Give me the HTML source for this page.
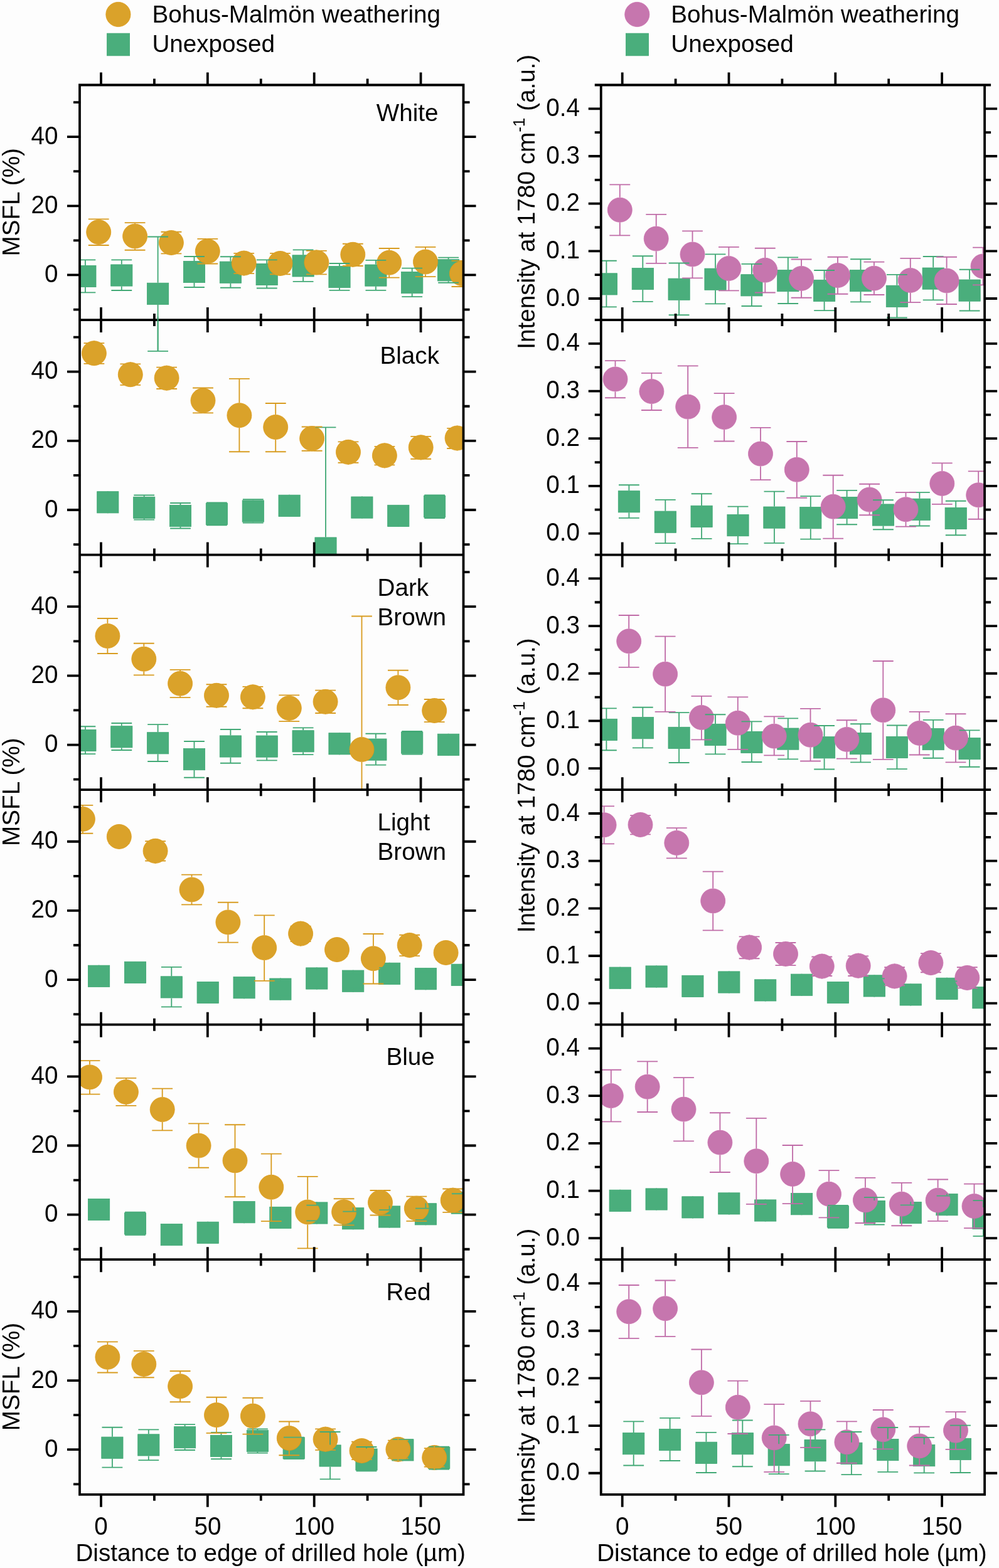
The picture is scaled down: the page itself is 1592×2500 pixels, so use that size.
<!DOCTYPE html>
<html lang="en"><head><meta charset="utf-8"><title>MSFL and intensity vs distance</title>
<style>html,body{margin:0;padding:0;background:#fdfdfd}svg{display:block}</style></head>
<body>
<svg width="1592" height="2500" viewBox="0 0 1592 2500" font-family="'Liberation Sans', sans-serif" font-size="38.65" fill="#000">
<rect width="1592" height="2500" fill="#fdfdfd"/>
<defs>
<clipPath id="cL0"><rect x="127.0" y="135.5" width="611.5" height="464.5"/></clipPath>
<clipPath id="cL1"><rect x="127.0" y="510.1" width="611.5" height="374.6"/></clipPath>
<clipPath id="cL2"><rect x="127.0" y="884.6" width="611.5" height="374.6"/></clipPath>
<clipPath id="cL3"><rect x="127.0" y="1259.2" width="611.5" height="374.5"/></clipPath>
<clipPath id="cL4"><rect x="127.0" y="1633.7" width="611.5" height="374.5"/></clipPath>
<clipPath id="cL5"><rect x="127.0" y="2008.2" width="611.5" height="374.6"/></clipPath>
<clipPath id="cR0"><rect x="957.75" y="135.5" width="611.3" height="374.6"/></clipPath>
<clipPath id="cR1"><rect x="957.75" y="510.1" width="611.3" height="374.6"/></clipPath>
<clipPath id="cR2"><rect x="957.75" y="884.6" width="611.3" height="374.6"/></clipPath>
<clipPath id="cR3"><rect x="957.75" y="1259.2" width="611.3" height="374.5"/></clipPath>
<clipPath id="cR4"><rect x="957.75" y="1633.7" width="611.3" height="374.5"/></clipPath>
<clipPath id="cR5"><rect x="957.75" y="2008.2" width="611.3" height="374.6"/></clipPath>
</defs>
<g clip-path="url(#cL0)" fill="none" stroke-width="1.85">
<g fill="#4AAE7C" stroke="#3AA670" stroke-width="0.8"><rect x="118.8" y="423.4" width="34.2" height="34.2"/><rect x="176.7" y="421.9" width="34.2" height="34.2"/><rect x="234.5" y="451.2" width="34.2" height="34.2"/><rect x="292.4" y="416.4" width="34.2" height="34.2"/><rect x="350.3" y="417.1" width="34.2" height="34.2"/><rect x="408.1" y="420.4" width="34.2" height="34.2"/><rect x="466" y="406.8" width="34.2" height="34.2"/><rect x="523.9" y="424.5" width="34.2" height="34.2"/><rect x="581.8" y="422" width="34.2" height="34.2"/><rect x="639.6" y="433.5" width="34.2" height="34.2"/><rect x="697.5" y="413.7" width="34.2" height="34.2"/></g>
<g fill="#DAA22A" stroke="#DD9B16" stroke-width="0.8"><circle cx="157.2" cy="370" r="19.5"/><circle cx="215.1" cy="376.6" r="19.5"/><circle cx="272.9" cy="387" r="19.5"/><circle cx="330.8" cy="400.6" r="19.5"/><circle cx="388.7" cy="419.6" r="19.5"/><circle cx="446.5" cy="420" r="19.5"/><circle cx="504.4" cy="418.4" r="19.5"/><circle cx="562.3" cy="405.8" r="19.5"/><circle cx="620.2" cy="418.8" r="19.5"/><circle cx="678" cy="417.5" r="19.5"/><circle cx="735.9" cy="436.1" r="19.5"/></g>
<path d="M135.9 423V414.4M119.5 414.4h32.8M135.9 458V466.4M119.5 466.4h32.8M193.8 421.5V414.4M177.4 414.4h32.8M193.8 456.5V463M177.4 463h32.8M251.6 450.8V377.5M235.2 377.5h32.8M251.6 485.8V559.8M235.2 559.8h32.8M309.5 416V409M293.1 409h32.8M309.5 451V458M293.1 458h32.8M367.4 416.7V409.2M351 409.2h32.8M367.4 451.7V458.7M351 458.7h32.8M425.2 420V414.4M408.9 414.4h32.8M425.2 455V459.5M408.9 459.5h32.8M483.1 406.4V398.3M466.7 398.3h32.8M483.1 441.4V448.9M466.7 448.9h32.8M541 424.1V420M524.6 420h32.8M541 459.1V462.8M524.6 462.8h32.8M598.9 421.6V414.8M582.5 414.8h32.8M598.9 456.6V462.8M582.5 462.8h32.8M656.7 433.1V427.6M640.3 427.6h32.8M656.7 468.1V473.1M640.3 473.1h32.8M714.6 413.3V410.6M698.2 410.6h32.8M714.6 448.3V450.7M698.2 450.7h32.8" stroke="#42A976"/>
<path d="M272.9 367.1V369.7M263.9 369.7h18.1M272.9 406.9V404.4M264.1 404.4h17.7M330.8 380.7V380.8M329.6 380.8h2.4M330.8 420.5V420.5M330.8 420.5h0M388.7 399.7V403.8M377.4 403.8h22.6M388.7 439.5V436.1M378.4 436.1h20.6M446.5 400.1V403.8M435.8 403.8h21.5M446.5 439.9V437.2M437.3 437.2h18.4M504.4 398.5V399.8M498.1 399.8h12.5M504.4 438.3V437.4M499.3 437.4h10.2M562.3 385.9V388.7M552.9 388.7h18.8M562.3 425.7V424M555 424h14.5" stroke="#DAA22A"/>
<path d="M157.2 350.1V349.3M140.8 349.3h32.8M157.2 389.9V391M140.8 391h32.8M215.1 356.7V355.1M198.7 355.1h32.8M215.1 396.5V398.7M198.7 398.7h32.8M256.5 369.7h7.4M282 369.7h7.4M256.5 404.4h7.5M281.8 404.4h7.5M314.4 380.8h15.2M332 380.8h15.2M314.4 420.5h16.4M330.8 420.5h16.4M372.3 403.8h5.1M400 403.8h5.1M372.3 436.1h6.1M399 436.1h6.1M430.1 403.8h5.6M457.3 403.8h5.6M430.1 437.2h7.2M455.8 437.2h7.2M488 399.8h10.1M510.7 399.8h10.1M488 437.4h11.3M509.5 437.4h11.3M545.9 388.7h7M571.7 388.7h7M545.9 424h9.2M569.5 424h9.2M620.2 398.9V396M603.8 396h32.8M620.2 438.7V442.6M603.8 442.6h32.8M678 397.6V393.9M661.6 393.9h32.8M678 437.4V441.1M661.6 441.1h32.8M735.9 416.2V415.9M719.5 415.9h32.8M735.9 456V457M719.5 457h32.8" stroke="#D89C20"/>
</g>
<g clip-path="url(#cL1)" fill="none" stroke-width="1.85">
<g fill="#4AAE7C" stroke="#3AA670" stroke-width="0.8"><rect x="154.7" y="783.7" width="34.2" height="34.2"/><rect x="212.6" y="792.3" width="34.2" height="34.2"/><rect x="270.4" y="805.3" width="34.2" height="34.2"/><rect x="328.3" y="802.3" width="34.2" height="34.2"/><rect x="386.2" y="797.9" width="34.2" height="34.2"/><rect x="444" y="789.2" width="34.2" height="34.2"/><rect x="501.9" y="856.9" width="34.2" height="34.2"/><rect x="559.8" y="792" width="34.2" height="34.2"/><rect x="617.7" y="805.3" width="34.2" height="34.2"/><rect x="675.5" y="790.5" width="34.2" height="34.2"/></g>
<g fill="#DAA22A" stroke="#DD9B16" stroke-width="0.8"><circle cx="149.9" cy="563.2" r="19.5"/><circle cx="207.8" cy="597.2" r="19.5"/><circle cx="265.6" cy="602.7" r="19.5"/><circle cx="323.5" cy="638.6" r="19.5"/><circle cx="381.4" cy="662.2" r="19.5"/><circle cx="439.2" cy="681" r="19.5"/><circle cx="497.1" cy="699.1" r="19.5"/><circle cx="555" cy="720.8" r="19.5"/><circle cx="612.9" cy="726.3" r="19.5"/><circle cx="670.7" cy="713.3" r="19.5"/><circle cx="728.6" cy="698.5" r="19.5"/></g>
<path d="M171.8 783.3V789.8M155.4 789.8h32.8M171.8 818.3V811.8M155.4 811.8h32.8M461.1 788.8V795.3M444.8 795.3h32.8M461.1 823.8V817.3M444.8 817.3h32.8M576.9 791.6V798.1M560.5 798.1h32.8M576.9 826.6V820.1M560.5 820.1h32.8M634.8 804.9V811.4M618.4 811.4h32.8M634.8 839.9V833.4M618.4 833.4h32.8" stroke="#4AAE7C"/>
<path d="M229.7 791.9V789.5M213.3 789.5h32.8M229.7 826.9V828.6M213.3 828.6h32.8M287.5 804.9V802M271.1 802h32.8M287.5 839.9V842.5M271.1 842.5h32.8M345.4 801.9V801.4M329 801.4h32.8M345.4 836.9V837.3M329 837.3h32.8M403.3 797.5V796.2M386.9 796.2h32.8M403.3 832.5V833.6M386.9 833.6h32.8M519 856.5V681.4M502.6 681.4h32.8M519 891.5V1000M502.6 1000h32.8M692.6 790.1V789.5M676.2 789.5h32.8M692.6 825.1V826M676.2 826h32.8" stroke="#42A976"/>
<path d="M149.9 543.3V547.1M139 547.1h21.8M149.9 583.1V579.9M139.9 579.9h20M207.8 577.3V580.3M198.1 580.3h19.4M207.8 617.1V613.9M197.7 613.9h20M265.6 582.8V585.6M256.3 585.6h18.8M265.6 622.6V620M256.6 620h18.1M323.5 658.5V658.4M322.3 658.4h2.4M497.1 679.2V680.5M490.8 680.5h12.5M497.1 719V718.7M494.5 718.7h5.3M555 700.9V704.3M544.7 704.3h20.6M555 740.7V737.7M545.3 737.7h19.4M612.9 706.4V711.9M599.9 711.9h25.9M612.9 746.2V741.3M600.6 741.3h24.6M670.7 693.4V695.8M662.1 695.8h17.3M670.7 733.2V731.7M664 731.7h13.6M728.6 678.6V682.8M717.2 682.8h22.9M728.6 718.4V715M718.3 715h20.6" stroke="#DAA22A"/>
<path d="M133.5 547.1h5.5M160.8 547.1h5.5M133.5 579.9h6.4M159.9 579.9h6.4M191.4 580.3h6.7M217.5 580.3h6.7M191.4 613.9h6.4M217.8 613.9h6.4M249.2 585.6h7M275 585.6h7M249.2 620h7.4M274.7 620h7.4M323.5 618.7V618.5M307.1 618.5h32.8M307.1 658.4h15.2M324.7 658.4h15.2M381.4 642.3V603.9M365 603.9h32.8M381.4 682.1V720.2M365 720.2h32.8M439.2 661.1V643M422.9 643h32.8M439.2 700.9V720.2M422.9 720.2h32.8M480.7 680.5h10.1M503.4 680.5h10.1M480.7 718.7h13.8M499.8 718.7h13.8M538.6 704.3h6.1M565.3 704.3h6.1M538.6 737.7h6.7M564.7 737.7h6.7M596.5 711.9h3.5M625.8 711.9h3.5M596.5 741.3h4.1M625.1 741.3h4.1M654.3 695.8h7.7M679.4 695.8h7.7M654.3 731.7h9.6M677.5 731.7h9.6M712.2 682.8h5M740 682.8h5M712.2 715h6.1M738.9 715h6.1" stroke="#D89C20"/>
</g>
<g clip-path="url(#cL2)" fill="none" stroke-width="1.85">
<g fill="#4AAE7C" stroke="#3AA670" stroke-width="0.8"><rect x="118.8" y="1163.4" width="34.2" height="34.2"/><rect x="176.7" y="1157.7" width="34.2" height="34.2"/><rect x="234.5" y="1167.7" width="34.2" height="34.2"/><rect x="292.4" y="1193.5" width="34.2" height="34.2"/><rect x="350.3" y="1172.9" width="34.2" height="34.2"/><rect x="408.1" y="1173" width="34.2" height="34.2"/><rect x="466" y="1164.7" width="34.2" height="34.2"/><rect x="523.9" y="1168.7" width="34.2" height="34.2"/><rect x="581.8" y="1178" width="34.2" height="34.2"/><rect x="639.6" y="1167" width="34.2" height="34.2"/><rect x="697.5" y="1170.2" width="34.2" height="34.2"/></g>
<g fill="#DAA22A" stroke="#DD9B16" stroke-width="0.8"><circle cx="171.4" cy="1014" r="19.5"/><circle cx="229.3" cy="1050.7" r="19.5"/><circle cx="287.1" cy="1089.8" r="19.5"/><circle cx="345" cy="1108.8" r="19.5"/><circle cx="402.9" cy="1111.3" r="19.5"/><circle cx="460.8" cy="1129" r="19.5"/><circle cx="518.6" cy="1118.8" r="19.5"/><circle cx="576.5" cy="1195" r="19.5"/><circle cx="634.4" cy="1096.2" r="19.5"/><circle cx="692.2" cy="1133" r="19.5"/></g>
<path d="M541 1168.3V1174.8M524.6 1174.8h32.8M541 1203.3V1196.8M524.6 1196.8h32.8M714.6 1169.8V1176.3M698.2 1176.3h32.8M714.6 1204.8V1198.3M698.2 1198.3h32.8" stroke="#4AAE7C"/>
<path d="M135.9 1163V1158.2M119.5 1158.2h32.8M135.9 1198V1202.1M119.5 1202.1h32.8M193.8 1157.3V1153M177.4 1153h32.8M193.8 1192.3V1196M177.4 1196h32.8M251.6 1167.3V1155.1M235.2 1155.1h32.8M251.6 1202.3V1214M235.2 1214h32.8M309.5 1193.1V1182M293.1 1182h32.8M309.5 1228.1V1239.7M293.1 1239.7h32.8M367.4 1172.5V1163M351 1163h32.8M367.4 1207.5V1216.7M351 1216.7h32.8M425.2 1172.6V1167M408.9 1167h32.8M425.2 1207.6V1212.3M408.9 1212.3h32.8M483.1 1164.3V1160.3M466.7 1160.3h32.8M483.1 1199.3V1203.1M466.7 1203.1h32.8M598.9 1177.6V1169.7M582.5 1169.7h32.8M598.9 1212.6V1219.6M582.5 1219.6h32.8M656.7 1166.6V1166M640.3 1166h32.8M656.7 1201.6V1202.5M640.3 1202.5h32.8" stroke="#42A976"/>
<path d="M345 1088.9V1091.2M336.5 1091.2h17M345 1128.7V1126.7M337.1 1126.7h15.8M402.9 1091.4V1094.8M392.6 1094.8h20.6M402.9 1131.2V1129.2M395 1129.2h15.8M518.6 1098.9V1100.6M511.4 1100.6h14.5M518.6 1138.7V1137M511.4 1137h14.5M692.2 1113.1V1115M684.5 1115h15.4M692.2 1152.9V1151.1M684.8 1151.1h14.9" stroke="#DAA22A"/>
<path d="M171.4 994.1V986M155 986h32.8M171.4 1033.9V1042M155 1042h32.8M229.3 1030.8V1025.7M212.9 1025.7h32.8M229.3 1070.6V1076.4M212.9 1076.4h32.8M287.1 1069.9V1067.8M270.7 1067.8h32.8M287.1 1109.7V1112.1M270.7 1112.1h32.8M328.6 1091.2h7.9M353.5 1091.2h7.9M328.6 1126.7h8.5M352.9 1126.7h8.5M386.5 1094.8h6.1M413.2 1094.8h6.1M386.5 1129.2h8.5M410.8 1129.2h8.5M460.8 1109.1V1108.4M444.4 1108.4h32.8M460.8 1148.9V1150.1M444.4 1150.1h32.8M502.2 1100.6h9.2M525.9 1100.6h9.2M502.2 1137h9.2M525.9 1137h9.2M576.5 1175.1V982.5M560.1 982.5h32.8M576.5 1214.9V1400M560.1 1400h32.8M634.4 1076.3V1068.7M618 1068.7h32.8M634.4 1116.1V1124M618 1124h32.8M675.8 1115h8.7M699.9 1115h8.7M675.8 1151.1h8.9M699.7 1151.1h8.9" stroke="#D89C20"/>
</g>
<g clip-path="url(#cL3)" fill="none" stroke-width="1.85">
<g fill="#4AAE7C" stroke="#3AA670" stroke-width="0.8"><rect x="140.5" y="1539.2" width="34.2" height="34.2"/><rect x="198.4" y="1533.3" width="34.2" height="34.2"/><rect x="256.2" y="1556.8" width="34.2" height="34.2"/><rect x="314.1" y="1565.4" width="34.2" height="34.2"/><rect x="372" y="1557.6" width="34.2" height="34.2"/><rect x="429.8" y="1560" width="34.2" height="34.2"/><rect x="487.7" y="1542.9" width="34.2" height="34.2"/><rect x="545.6" y="1547.1" width="34.2" height="34.2"/><rect x="603.5" y="1535.2" width="34.2" height="34.2"/><rect x="661.3" y="1543.6" width="34.2" height="34.2"/><rect x="719.2" y="1537.2" width="34.2" height="34.2"/></g>
<g fill="#DAA22A" stroke="#DD9B16" stroke-width="0.8"><circle cx="131.9" cy="1305.9" r="19.5"/><circle cx="189.8" cy="1333.9" r="19.5"/><circle cx="247.6" cy="1356.8" r="19.5"/><circle cx="305.5" cy="1418.4" r="19.5"/><circle cx="363.4" cy="1470.4" r="19.5"/><circle cx="421.2" cy="1511.1" r="19.5"/><circle cx="479.1" cy="1488.6" r="19.5"/><circle cx="537" cy="1514.1" r="19.5"/><circle cx="594.9" cy="1528.2" r="19.5"/><circle cx="652.7" cy="1507" r="19.5"/><circle cx="710.6" cy="1518.9" r="19.5"/></g>
<path d="M157.6 1538.8V1545.3M141.2 1545.3h32.8M157.6 1573.8V1567.3M141.2 1567.3h32.8M215.5 1532.9V1539.4M199.1 1539.4h32.8M215.5 1567.9V1561.4M199.1 1561.4h32.8M331.2 1565V1571.5M314.8 1571.5h32.8M331.2 1600V1593.5M314.8 1593.5h32.8M389.1 1557.2V1563.7M372.7 1563.7h32.8M389.1 1592.2V1585.7M372.7 1585.7h32.8M446.9 1559.6V1566.1M430.5 1566.1h32.8M446.9 1594.6V1588.1M430.5 1588.1h32.8M504.8 1542.5V1549M488.4 1549h32.8M504.8 1577.5V1571M488.4 1571h32.8M562.7 1546.7V1553.2M546.3 1553.2h32.8M562.7 1581.7V1575.2M546.3 1575.2h32.8M620.6 1534.8V1542.8M604.2 1542.8h32.8M620.6 1569.8V1561.8M604.2 1561.8h32.8M678.4 1543.2V1549.7M662 1549.7h32.8M678.4 1578.2V1571.7M662 1571.7h32.8M736.3 1536.8V1543.3M719.9 1543.3h32.8M736.3 1571.8V1565.3M719.9 1565.3h32.8" stroke="#4AAE7C"/>
<path d="M273.3 1556.4V1541.8M256.9 1541.8h32.8M273.3 1591.4V1605.3M256.9 1605.3h32.8" stroke="#42A976"/>
<path d="M189.8 1314V1322.9M174 1322.9h31.6M189.8 1353.8V1344.9M174 1344.9h31.6M247.6 1336.9V1341.2M236.1 1341.2h23.1M247.6 1376.7V1372.5M236.2 1372.5h22.9M479.1 1468.7V1476.7M464 1476.7h30.3M479.1 1508.5V1501.1M464.4 1501.1h29.4M537 1494.2V1503.1M521.2 1503.1h31.6M537 1534V1525.1M521.2 1525.1h31.6M652.7 1487.1V1490.7M642.1 1490.7h21.2M652.7 1526.9V1524.1M643.4 1524.1h18.8M710.6 1499V1507.9M694.8 1507.9h31.6M710.6 1538.8V1529.9M694.8 1529.9h31.6" stroke="#DAA22A"/>
<path d="M131.9 1286V1283.8M115.5 1283.8h32.8M131.9 1325.8V1328.7M115.5 1328.7h32.8M173.4 1322.9h0.6M205.6 1322.9h0.6M173.4 1344.9h0.6M205.6 1344.9h0.6M231.2 1341.2h4.8M259.2 1341.2h4.8M231.2 1372.5h5M259.1 1372.5h5M305.5 1398.5V1394.6M289.1 1394.6h32.8M305.5 1438.3V1442.4M289.1 1442.4h32.8M363.4 1450.5V1438.7M347 1438.7h32.8M363.4 1490.3V1502.6M347 1502.6h32.8M421.2 1491.2V1459.4M404.9 1459.4h32.8M421.2 1531V1563.9M404.9 1563.9h32.8M462.7 1476.7h1.3M494.3 1476.7h1.3M462.7 1501.1h1.7M493.8 1501.1h1.7M520.6 1503.1h0.6M552.8 1503.1h0.6M520.6 1525.1h0.6M552.8 1525.1h0.6M594.9 1508.3V1489M578.5 1489h32.8M594.9 1548.1V1568.5M578.5 1568.5h32.8M636.3 1490.7h5.8M663.3 1490.7h5.8M636.3 1524.1h7M662.1 1524.1h7M694.2 1507.9h0.6M726.4 1507.9h0.6M694.2 1529.9h0.6M726.4 1529.9h0.6" stroke="#D89C20"/>
</g>
<g clip-path="url(#cL4)" fill="none" stroke-width="1.85">
<g fill="#4AAE7C" stroke="#3AA670" stroke-width="0.8"><rect x="140.5" y="1911.4" width="34.2" height="34.2"/><rect x="198.4" y="1933.8" width="34.2" height="34.2"/><rect x="256.2" y="1951.5" width="34.2" height="34.2"/><rect x="314.1" y="1948.2" width="34.2" height="34.2"/><rect x="372" y="1915.6" width="34.2" height="34.2"/><rect x="429.8" y="1924.3" width="34.2" height="34.2"/><rect x="487.7" y="1916.9" width="34.2" height="34.2"/><rect x="545.6" y="1925.7" width="34.2" height="34.2"/><rect x="603.5" y="1922.9" width="34.2" height="34.2"/><rect x="661.3" y="1918.7" width="34.2" height="34.2"/><rect x="719.2" y="1901" width="34.2" height="34.2"/></g>
<g fill="#DAA22A" stroke="#DD9B16" stroke-width="0.8"><circle cx="143" cy="1717.4" r="19.5"/><circle cx="200.9" cy="1741" r="19.5"/><circle cx="258.7" cy="1769" r="19.5"/><circle cx="316.6" cy="1826.6" r="19.5"/><circle cx="374.5" cy="1850.4" r="19.5"/><circle cx="432.3" cy="1892.8" r="19.5"/><circle cx="490.2" cy="1932.5" r="19.5"/><circle cx="548.1" cy="1932.3" r="19.5"/><circle cx="606" cy="1917.2" r="19.5"/><circle cx="663.8" cy="1926.6" r="19.5"/><circle cx="721.7" cy="1913.7" r="19.5"/></g>
<path d="M157.6 1911V1917.5M141.2 1917.5h32.8M157.6 1946V1939.5M141.2 1939.5h32.8M273.3 1951.1V1957.6M256.9 1957.6h32.8M273.3 1986.1V1979.6M256.9 1979.6h32.8M331.2 1947.8V1954.3M314.8 1954.3h32.8M331.2 1982.8V1976.3M314.8 1976.3h32.8M389.1 1915.2V1921.7M372.7 1921.7h32.8M389.1 1950.2V1943.7M372.7 1943.7h32.8M446.9 1923.9V1930.4M430.5 1930.4h32.8M446.9 1958.9V1952.4M430.5 1952.4h32.8M504.8 1916.5V1921.6M488.4 1921.6h32.8M504.8 1951.5V1946.4M488.4 1946.4h32.8M562.7 1925.3V1931.6M546.3 1931.6h32.8M562.7 1960.3V1954M546.3 1954h32.8M620.6 1922.5V1929.1M604.2 1929.1h32.8M620.6 1957.5V1950.9M604.2 1950.9h32.8M678.4 1918.3V1926.6M662 1926.6h32.8M678.4 1953.3V1944.8M662 1944.8h32.8M736.3 1900.6V1903.2M719.9 1903.2h32.8M736.3 1935.6V1933M719.9 1933h32.8" stroke="#4AAE7C"/>
<path d="M215.5 1933.4V1932.7M199.1 1932.7h32.8M215.5 1968.4V1969.1M199.1 1969.1h32.8" stroke="#42A976"/>
<path d="M606 1897.3V1898M601.5 1898h8.9M663.8 1906.7V1907.6M658.7 1907.6h10.2M721.7 1893.8V1895.5M714.5 1895.5h14.5M721.7 1933.6V1932.9M717.3 1932.9h8.9" stroke="#DAA22A"/>
<path d="M143 1697.5V1691.1M126.6 1691.1h32.8M143 1737.3V1744.6M126.6 1744.6h32.8M200.9 1721.1V1718.9M184.5 1718.9h32.8M200.9 1760.9V1762.9M184.5 1762.9h32.8M258.7 1749.1V1735.6M242.3 1735.6h32.8M258.7 1788.9V1802.4M242.3 1802.4h32.8M316.6 1806.7V1791.3M300.2 1791.3h32.8M316.6 1846.5V1861.7M300.2 1861.7h32.8M374.5 1830.5V1793.2M358.1 1793.2h32.8M374.5 1870.3V1908.2M358.1 1908.2h32.8M432.3 1872.9V1839.6M415.9 1839.6h32.8M432.3 1912.7V1947.1M415.9 1947.1h32.8M490.2 1912.6V1875.9M473.8 1875.9h32.8M490.2 1952.4V1990.3M473.8 1990.3h32.8M548.1 1912.4V1911.2M531.7 1911.2h32.8M548.1 1952.2V1953.3M531.7 1953.3h32.8M589.6 1898h12M610.4 1898h12M606 1937.1V1937.5M589.6 1937.5h32.8M647.4 1907.6h11.3M668.9 1907.6h11.3M663.8 1946.5V1946.9M647.4 1946.9h32.8M705.3 1895.5h9.2M728.9 1895.5h9.2M705.3 1932.9h12M726.1 1932.9h12" stroke="#D89C20"/>
</g>
<g clip-path="url(#cL5)" fill="none" stroke-width="1.85">
<g fill="#4AAE7C" stroke="#3AA670" stroke-width="0.8"><rect x="161.8" y="2291.1" width="34.2" height="34.2"/><rect x="219.7" y="2286.8" width="34.2" height="34.2"/><rect x="277.5" y="2274.6" width="34.2" height="34.2"/><rect x="335.4" y="2288.4" width="34.2" height="34.2"/><rect x="393.3" y="2280.3" width="34.2" height="34.2"/><rect x="451.1" y="2291.7" width="34.2" height="34.2"/><rect x="509" y="2303.9" width="34.2" height="34.2"/><rect x="566.9" y="2309.9" width="34.2" height="34.2"/><rect x="624.8" y="2294.8" width="34.2" height="34.2"/><rect x="682.6" y="2307.3" width="34.2" height="34.2"/></g>
<g fill="#DAA22A" stroke="#DD9B16" stroke-width="0.8"><circle cx="171.4" cy="2163.8" r="19.5"/><circle cx="229.3" cy="2174.9" r="19.5"/><circle cx="287.1" cy="2210.2" r="19.5"/><circle cx="345" cy="2256.1" r="19.5"/><circle cx="402.9" cy="2257.6" r="19.5"/><circle cx="460.8" cy="2293" r="19.5"/><circle cx="518.6" cy="2294.7" r="19.5"/><circle cx="576.5" cy="2313.1" r="19.5"/><circle cx="634.4" cy="2310.8" r="19.5"/><circle cx="692.2" cy="2323.9" r="19.5"/></g>
<path d="M468.2 2291.3V2291.6M451.9 2291.6h32.8M468.2 2326.3V2326M451.9 2326h32.8M641.9 2294.4V2295.1M625.5 2295.1h32.8M641.9 2329.4V2327.5M625.5 2327.5h32.8" stroke="#4AAE7C"/>
<path d="M178.9 2290.7V2275.7M162.5 2275.7h32.8M178.9 2325.7V2339.6M162.5 2339.6h32.8M236.8 2286.4V2279.3M220.4 2279.3h32.8M236.8 2321.4V2328.1M220.4 2328.1h32.8M294.6 2274.2V2271.1M278.2 2271.1h32.8M294.6 2309.2V2312M278.2 2312h32.8M352.5 2288V2283.9M336.1 2283.9h32.8M352.5 2323V2326.2M336.1 2326.2h32.8M410.4 2279.9V2278.4M394 2278.4h32.8M410.4 2314.9V2316.6M394 2316.6h32.8M526.1 2303.5V2283M509.7 2283h32.8M526.1 2338.5V2358.4M509.7 2358.4h32.8M584 2309.5V2307M567.6 2307h32.8M584 2344.5V2345.2M567.6 2345.2h32.8M699.7 2306.9V2306.6M683.3 2306.6h32.8M699.7 2341.9V2342.5M683.3 2342.5h32.8" stroke="#42A976"/>
<path d="M518.6 2274.8V2278.4M508 2278.4h21.2M518.6 2314.6V2311.8M509.2 2311.8h18.8M576.5 2293.2V2298.7M563.6 2298.7h25.9M576.5 2333V2327.1M563.1 2327.1h26.7M634.4 2290.9V2296.6M621.2 2296.6h26.3M634.4 2330.7V2325.4M621.6 2325.4h25.4M692.2 2304V2309.1M679.7 2309.1h25M692.2 2343.8V2338.6M679.6 2338.6h25.2" stroke="#DAA22A"/>
<path d="M171.4 2143.9V2139.4M155 2139.4h32.8M171.4 2183.7V2188.5M155 2188.5h32.8M229.3 2155V2153.8M212.9 2153.8h32.8M229.3 2194.8V2196.2M212.9 2196.2h32.8M287.1 2190.3V2186M270.7 2186h32.8M287.1 2230.1V2235.2M270.7 2235.2h32.8M345 2236.2V2227.7M328.6 2227.7h32.8M345 2276V2284.9M328.6 2284.9h32.8M402.9 2237.7V2228.7M386.5 2228.7h32.8M402.9 2277.5V2286.6M386.5 2286.6h32.8M460.8 2273.1V2266.5M444.4 2266.5h32.8M460.8 2312.9V2320.2M444.4 2320.2h32.8M502.2 2278.4h5.8M529.2 2278.4h5.8M502.2 2311.8h7M528 2311.8h7M560.1 2298.7h3.5M589.4 2298.7h3.5M560.1 2327.1h3.1M589.8 2327.1h3.1M618 2296.6h3.3M647.5 2296.6h3.3M618 2325.4h3.7M647.1 2325.4h3.7M675.8 2309.1h3.9M704.7 2309.1h3.9M675.8 2338.6h3.8M704.8 2338.6h3.8" stroke="#D89C20"/>
</g>
<g clip-path="url(#cR0)" fill="none" stroke-width="1.85">
<g fill="#4AAE7C" stroke="#3AA670" stroke-width="0.8"><rect x="949.3" y="435.8" width="34.2" height="34.2"/><rect x="1007.2" y="427.5" width="34.2" height="34.2"/><rect x="1065" y="444.1" width="34.2" height="34.2"/><rect x="1122.9" y="428.1" width="34.2" height="34.2"/><rect x="1180.8" y="437.7" width="34.2" height="34.2"/><rect x="1238.7" y="430.5" width="34.2" height="34.2"/><rect x="1296.5" y="446.3" width="34.2" height="34.2"/><rect x="1354.4" y="430.5" width="34.2" height="34.2"/><rect x="1412.3" y="455.2" width="34.2" height="34.2"/><rect x="1470.1" y="427" width="34.2" height="34.2"/><rect x="1528" y="446" width="34.2" height="34.2"/></g>
<g fill="#C676AE" stroke="#CB70AE" stroke-width="0.8"><circle cx="987.8" cy="334.7" r="19.5"/><circle cx="1045.7" cy="380.6" r="19.5"/><circle cx="1103.5" cy="405.5" r="19.5"/><circle cx="1161.4" cy="428" r="19.5"/><circle cx="1219.3" cy="430.8" r="19.5"/><circle cx="1277.1" cy="443.9" r="19.5"/><circle cx="1335" cy="439.1" r="19.5"/><circle cx="1392.9" cy="443.7" r="19.5"/><circle cx="1450.8" cy="447" r="19.5"/><circle cx="1508.6" cy="447.5" r="19.5"/><circle cx="1566.5" cy="424.5" r="19.5"/></g>
<path d="M966.4 435.4V415.7M950 415.7h32.8M966.4 470.4V489.4M950 489.4h32.8M1024.3 427.1V408.2M1007.9 408.2h32.8M1024.3 462.1V480.9M1007.9 480.9h32.8M1082.1 443.7V419.5M1065.7 419.5h32.8M1082.1 478.7V502.2M1065.7 502.2h32.8M1140 427.7V405.3M1123.6 405.3h32.8M1140 462.7V484.4M1123.6 484.4h32.8M1197.9 437.3V420.9M1181.5 420.9h32.8M1197.9 472.3V488M1181.5 488h32.8M1255.8 430.1V410.3M1239.3 410.3h32.8M1255.8 465.1V484M1239.3 484h32.8M1313.6 445.9V431M1297.2 431h32.8M1313.6 480.9V495.1M1297.2 495.1h32.8M1371.5 430.1V413.2M1355.1 413.2h32.8M1371.5 465.1V481.3M1355.1 481.3h32.8M1429.4 454.8V437.8M1413 437.8h32.8M1429.4 489.8V506.5M1413 506.5h32.8M1487.2 426.6V409M1470.8 409h32.8M1487.2 461.6V478.4M1470.8 478.4h32.8M1545.1 445.6V429.7M1528.7 429.7h32.8M1545.1 480.6V495.5M1528.7 495.5h32.8" stroke="#42A976"/>
<path d="M987.8 314.8V294.4M971.4 294.4h32.8M987.8 354.6V375.4M971.4 375.4h32.8M1045.7 360.7V341.8M1029.3 341.8h32.8M1045.7 400.5V419.9M1029.3 419.9h32.8M1103.5 385.6V368.3M1087.1 368.3h32.8M1103.5 425.4V443.3M1087.1 443.3h32.8M1161.4 408.1V393.8M1145 393.8h32.8M1161.4 447.9V463.3M1145 463.3h32.8M1219.3 410.9V395.7M1202.9 395.7h32.8M1219.3 450.7V466.5M1202.9 466.5h32.8M1277.1 424V413.5M1260.7 413.5h32.8M1277.1 463.8V474.7M1260.7 474.7h32.8M1335 419.2V409.7M1318.6 409.7h32.8M1335 459V468.7M1318.6 468.7h32.8M1392.9 423.8V417.6M1376.5 417.6h32.8M1392.9 463.6V470M1376.5 470h32.8M1450.8 427.1V411.8M1434.4 411.8h32.8M1450.8 466.9V482.1M1434.4 482.1h32.8M1508.6 427.6V409.7M1492.2 409.7h32.8M1508.6 467.4V485M1492.2 485h32.8M1566.5 404.6V394.6M1550.1 394.6h32.8M1566.5 444.4V454.3M1550.1 454.3h32.8" stroke="#C06CA8"/>
</g>
<g clip-path="url(#cR1)" fill="none" stroke-width="1.85">
<g fill="#4AAE7C" stroke="#3AA670" stroke-width="0.8"><rect x="985.3" y="782.7" width="34.2" height="34.2"/><rect x="1043.2" y="815.1" width="34.2" height="34.2"/><rect x="1101" y="806.3" width="34.2" height="34.2"/><rect x="1158.9" y="820.5" width="34.2" height="34.2"/><rect x="1216.8" y="808" width="34.2" height="34.2"/><rect x="1274.7" y="808.6" width="34.2" height="34.2"/><rect x="1332.5" y="792.5" width="34.2" height="34.2"/><rect x="1390.4" y="803.9" width="34.2" height="34.2"/><rect x="1448.3" y="795.2" width="34.2" height="34.2"/><rect x="1506.1" y="809.4" width="34.2" height="34.2"/></g>
<g fill="#C676AE" stroke="#CB70AE" stroke-width="0.8"><circle cx="980.5" cy="604.5" r="19.5"/><circle cx="1038.4" cy="624.1" r="19.5"/><circle cx="1096.2" cy="648.6" r="19.5"/><circle cx="1154.1" cy="665.1" r="19.5"/><circle cx="1212" cy="723.5" r="19.5"/><circle cx="1269.8" cy="748.8" r="19.5"/><circle cx="1327.7" cy="807.8" r="19.5"/><circle cx="1385.6" cy="796.6" r="19.5"/><circle cx="1443.5" cy="812.2" r="19.5"/><circle cx="1501.3" cy="770.9" r="19.5"/><circle cx="1559.2" cy="789.3" r="19.5"/></g>
<path d="M1002.4 782.3V773.2M986 773.2h32.8M1002.4 817.3V825.8M986 825.8h32.8M1060.3 814.7V796.8M1043.9 796.8h32.8M1060.3 849.7V866.1M1043.9 866.1h32.8M1118.1 805.9V787.2M1101.7 787.2h32.8M1118.1 840.9V858.8M1101.7 858.8h32.8M1176 820.1V807.6M1159.6 807.6h32.8M1176 855.1V867.1M1159.6 867.1h32.8M1233.9 807.6V783.6M1217.5 783.6h32.8M1233.9 842.6V865.9M1217.5 865.9h32.8M1291.8 808.2V791.1M1275.3 791.1h32.8M1291.8 843.2V859.6M1275.3 859.6h32.8M1349.6 792.1V781.8M1333.2 781.8h32.8M1349.6 827.1V836.2M1333.2 836.2h32.8M1407.5 803.5V797.2M1391.1 797.2h32.8M1407.5 838.5V844.2M1391.1 844.2h32.8M1465.4 794.8V785.1M1449 785.1h32.8M1465.4 829.8V838.5M1449 838.5h32.8M1523.2 809V798.7M1506.8 798.7h32.8M1523.2 844V853.2M1506.8 853.2h32.8" stroke="#42A976"/>
<path d="M980.5 584.6V575.1M964.1 575.1h32.8M980.5 624.4V634.2M964.1 634.2h32.8M1038.4 604.2V594.9M1022 594.9h32.8M1038.4 644V654M1022 654h32.8M1096.2 628.7V583.4M1079.8 583.4h32.8M1096.2 668.5V713.9M1079.8 713.9h32.8M1154.1 645.2V627.1M1137.7 627.1h32.8M1154.1 685V703.5M1137.7 703.5h32.8M1212 703.6V681.8M1195.6 681.8h32.8M1212 743.4V765.1M1195.6 765.1h32.8M1269.8 728.9V704M1253.4 704h32.8M1269.8 768.7V793.7M1253.4 793.7h32.8M1327.7 787.9V757.7M1311.3 757.7h32.8M1327.7 827.7V858.6M1311.3 858.6h32.8M1385.6 776.7V771.7M1369.2 771.7h32.8M1385.6 816.5V821.2M1369.2 821.2h32.8M1443.5 792.3V785.1M1427.1 785.1h32.8M1443.5 832.1V839.6M1427.1 839.6h32.8M1501.3 751V738.3M1484.9 738.3h32.8M1501.3 790.8V803.9M1484.9 803.9h32.8M1559.2 769.4V751.3M1542.8 751.3h32.8M1559.2 809.2V827.7M1542.8 827.7h32.8" stroke="#C06CA8"/>
</g>
<g clip-path="url(#cR2)" fill="none" stroke-width="1.85">
<g fill="#4AAE7C" stroke="#3AA670" stroke-width="0.8"><rect x="949.3" y="1146.3" width="34.2" height="34.2"/><rect x="1007.2" y="1143.6" width="34.2" height="34.2"/><rect x="1065" y="1159.3" width="34.2" height="34.2"/><rect x="1122.9" y="1154.3" width="34.2" height="34.2"/><rect x="1180.8" y="1166.3" width="34.2" height="34.2"/><rect x="1238.7" y="1161" width="34.2" height="34.2"/><rect x="1296.5" y="1174.7" width="34.2" height="34.2"/><rect x="1354.4" y="1168.5" width="34.2" height="34.2"/><rect x="1412.3" y="1174.4" width="34.2" height="34.2"/><rect x="1470.1" y="1161.5" width="34.2" height="34.2"/><rect x="1528" y="1176.5" width="34.2" height="34.2"/></g>
<g fill="#C676AE" stroke="#CB70AE" stroke-width="0.8"><circle cx="1002.2" cy="1022.3" r="19.5"/><circle cx="1060.1" cy="1074.7" r="19.5"/><circle cx="1117.9" cy="1144" r="19.5"/><circle cx="1175.8" cy="1152.8" r="19.5"/><circle cx="1233.7" cy="1173.7" r="19.5"/><circle cx="1291.5" cy="1171.8" r="19.5"/><circle cx="1349.4" cy="1178.9" r="19.5"/><circle cx="1407.3" cy="1132.3" r="19.5"/><circle cx="1465.2" cy="1168.9" r="19.5"/><circle cx="1523" cy="1176.6" r="19.5"/></g>
<path d="M966.4 1145.9V1129.4M950 1129.4h32.8M966.4 1180.9V1196.2M950 1196.2h32.8M1024.3 1143.2V1127.7M1007.9 1127.7h32.8M1024.3 1178.2V1192.4M1007.9 1192.4h32.8M1082.1 1158.9V1136.1M1065.7 1136.1h32.8M1082.1 1193.9V1216M1065.7 1216h32.8M1140 1153.9V1139.2M1123.6 1139.2h32.8M1140 1188.9V1202.3M1123.6 1202.3h32.8M1197.9 1165.9V1150.3M1181.5 1150.3h32.8M1197.9 1200.9V1215M1181.5 1215h32.8M1255.8 1160.6V1145.3M1239.3 1145.3h32.8M1255.8 1195.6V1210.4M1239.3 1210.4h32.8M1313.6 1174.3V1157M1297.2 1157h32.8M1313.6 1209.3V1226.5M1297.2 1226.5h32.8M1371.5 1168.1V1154.2M1355.1 1154.2h32.8M1371.5 1203.1V1215.4M1355.1 1215.4h32.8M1429.4 1174V1156.5M1413 1156.5h32.8M1429.4 1209V1226.1M1413 1226.1h32.8M1487.2 1161.1V1147.8M1470.8 1147.8h32.8M1487.2 1196.1V1208.7M1470.8 1208.7h32.8M1545.1 1176.1V1164.3M1528.7 1164.3h32.8M1545.1 1211.1V1222.7M1528.7 1222.7h32.8" stroke="#42A976"/>
<path d="M1002.2 1002.4V981M985.8 981h32.8M1002.2 1042.2V1063.8M985.8 1063.8h32.8M1060.1 1054.8V1014.6M1043.7 1014.6h32.8M1060.1 1094.6V1134.8M1043.7 1134.8h32.8M1117.9 1124.1V1109.8M1101.5 1109.8h32.8M1117.9 1163.9V1179.3M1101.5 1179.3h32.8M1175.8 1132.9V1111.4M1159.4 1111.4h32.8M1175.8 1172.7V1194.9M1159.4 1194.9h32.8M1233.7 1153.8V1142.3M1217.3 1142.3h32.8M1233.7 1193.6V1204.3M1217.3 1204.3h32.8M1291.5 1151.9V1129.8M1275.1 1129.8h32.8M1291.5 1191.7V1213.5M1275.1 1213.5h32.8M1349.4 1159V1148.2M1333 1148.2h32.8M1349.4 1198.8V1209.6M1333 1209.6h32.8M1407.3 1112.4V1054M1390.9 1054h32.8M1407.3 1152.2V1210.8M1390.9 1210.8h32.8M1465.2 1149V1134.8M1448.8 1134.8h32.8M1465.2 1188.8V1203.5M1448.8 1203.5h32.8M1523 1156.7V1138.2M1506.6 1138.2h32.8M1523 1196.5V1215.4M1506.6 1215.4h32.8" stroke="#C06CA8"/>
</g>
<g clip-path="url(#cR3)" fill="none" stroke-width="1.85">
<g fill="#4AAE7C" stroke="#3AA670" stroke-width="0.8"><rect x="971.1" y="1542.1" width="34.2" height="34.2"/><rect x="1029" y="1539.9" width="34.2" height="34.2"/><rect x="1086.8" y="1555.3" width="34.2" height="34.2"/><rect x="1144.7" y="1548.9" width="34.2" height="34.2"/><rect x="1202.6" y="1561.8" width="34.2" height="34.2"/><rect x="1260.5" y="1553.1" width="34.2" height="34.2"/><rect x="1318.3" y="1565.4" width="34.2" height="34.2"/><rect x="1376.2" y="1554.8" width="34.2" height="34.2"/><rect x="1434.1" y="1568.8" width="34.2" height="34.2"/><rect x="1491.9" y="1559.2" width="34.2" height="34.2"/><rect x="1549.8" y="1573.6" width="34.2" height="34.2"/></g>
<g fill="#C676AE" stroke="#CB70AE" stroke-width="0.8"><circle cx="962.6" cy="1315.3" r="19.5"/><circle cx="1020.5" cy="1314.9" r="19.5"/><circle cx="1078.3" cy="1343.9" r="19.5"/><circle cx="1136.2" cy="1436.4" r="19.5"/><circle cx="1194.1" cy="1510.5" r="19.5"/><circle cx="1252" cy="1520.9" r="19.5"/><circle cx="1309.8" cy="1540.6" r="19.5"/><circle cx="1367.7" cy="1539.7" r="19.5"/><circle cx="1425.6" cy="1556.4" r="19.5"/><circle cx="1483.4" cy="1535.1" r="19.5"/><circle cx="1541.3" cy="1558.9" r="19.5"/></g>
<path d="M988.2 1541.7V1548.2M971.8 1548.2h32.8M988.2 1576.7V1570.2M971.8 1570.2h32.8M1046.1 1539.5V1546M1029.7 1546h32.8M1046.1 1574.5V1568M1029.7 1568h32.8M1103.9 1554.9V1561.4M1087.5 1561.4h32.8M1103.9 1589.9V1583.4M1087.5 1583.4h32.8M1161.8 1548.5V1555M1145.4 1555h32.8M1161.8 1583.5V1577M1145.4 1577h32.8M1219.7 1561.4V1567.9M1203.3 1567.9h32.8M1219.7 1596.4V1589.9M1203.3 1589.9h32.8M1277.5 1552.7V1559.2M1261.1 1559.2h32.8M1277.5 1587.7V1581.2M1261.1 1581.2h32.8M1335.4 1565V1571.5M1319 1571.5h32.8M1335.4 1600V1593.5M1319 1593.5h32.8M1393.3 1554.4V1560.2M1376.9 1560.2h32.8M1393.3 1589.4V1583.6M1376.9 1583.6h32.8M1451.2 1568.4V1574.9M1434.8 1574.9h32.8M1451.2 1603.4V1596.9M1434.8 1596.9h32.8M1509 1558.8V1564.4M1492.6 1564.4h32.8M1509 1593.8V1588.2M1492.6 1588.2h32.8M1566.9 1573.2V1579.7M1550.5 1579.7h32.8M1566.9 1608.2V1601.7M1550.5 1601.7h32.8" stroke="#4AAE7C"/>
<path d="M1020.5 1295V1300.1M1008 1300.1h25M1020.5 1334.8V1330.3M1008.7 1330.3h23.6M1194.1 1490.6V1493.4M1184.7 1493.4h18.8M1194.1 1530.4V1528.2M1185.8 1528.2h16.6M1252 1501V1503M1244.1 1503h15.8M1252 1540.8V1539.1M1244.7 1539.1h14.5M1309.8 1520.7V1525.5M1297.7 1525.5h24.3M1309.8 1560.5V1556M1298 1556h23.6M1367.7 1519.8V1524.3M1355.9 1524.3h23.6M1367.7 1559.6V1556M1357.1 1556h21.2M1425.6 1536.5V1542.2M1412.4 1542.2h26.3M1425.6 1576.3V1571.3M1413.2 1571.3h24.8M1483.4 1515.2V1520.1M1471.2 1520.1h24.6M1483.4 1555V1550.2M1471.3 1550.2h24.3M1541.3 1539V1542.2M1531.3 1542.2h20M1541.3 1578.8V1575.4M1531 1575.4h20.6" stroke="#C676AE"/>
<path d="M962.6 1295.4V1285.4M946.2 1285.4h32.8M962.6 1335.2V1345.4M946.2 1345.4h32.8M1004.1 1300.1h3.9M1033 1300.1h3.9M1004.1 1330.3h4.6M1032.3 1330.3h4.6M1078.3 1324V1320.1M1061.9 1320.1h32.8M1078.3 1363.8V1368.3M1061.9 1368.3h32.8M1136.2 1416.5V1389.6M1119.8 1389.6h32.8M1136.2 1456.3V1483.4M1119.8 1483.4h32.8M1177.7 1493.4h7M1203.5 1493.4h7M1177.7 1528.2h8.1M1202.4 1528.2h8.1M1235.5 1503h8.5M1259.8 1503h8.5M1235.5 1539.1h9.2M1259.2 1539.1h9.2M1293.4 1525.5h4.2M1322 1525.5h4.2M1293.4 1556h4.6M1321.6 1556h4.6M1351.3 1524.3h4.6M1379.5 1524.3h4.6M1351.3 1556h5.8M1378.3 1556h5.8M1409.2 1542.2h3.3M1438.7 1542.2h3.3M1409.2 1571.3h4M1438 1571.3h4M1467 1520.1h4.1M1495.7 1520.1h4.1M1467 1550.2h4.2M1495.6 1550.2h4.2M1524.9 1542.2h6.4M1551.3 1542.2h6.4M1524.9 1575.4h6.1M1551.6 1575.4h6.1" stroke="#C06CA8"/>
</g>
<g clip-path="url(#cR4)" fill="none" stroke-width="1.85">
<g fill="#4AAE7C" stroke="#3AA670" stroke-width="0.8"><rect x="971.1" y="1897.2" width="34.2" height="34.2"/><rect x="1029" y="1894.9" width="34.2" height="34.2"/><rect x="1086.8" y="1907.8" width="34.2" height="34.2"/><rect x="1144.7" y="1901.8" width="34.2" height="34.2"/><rect x="1202.6" y="1912.9" width="34.2" height="34.2"/><rect x="1260.5" y="1902.6" width="34.2" height="34.2"/><rect x="1318.3" y="1922.7" width="34.2" height="34.2"/><rect x="1376.2" y="1914.4" width="34.2" height="34.2"/><rect x="1434.1" y="1916.5" width="34.2" height="34.2"/><rect x="1491.9" y="1903.6" width="34.2" height="34.2"/><rect x="1549.8" y="1925.4" width="34.2" height="34.2"/></g>
<g fill="#C676AE" stroke="#CB70AE" stroke-width="0.8"><circle cx="973.8" cy="1747.1" r="19.5"/><circle cx="1031.7" cy="1732.7" r="19.5"/><circle cx="1089.5" cy="1768.6" r="19.5"/><circle cx="1147.4" cy="1821.6" r="19.5"/><circle cx="1205.3" cy="1851.3" r="19.5"/><circle cx="1263.1" cy="1871.9" r="19.5"/><circle cx="1321" cy="1903.7" r="19.5"/><circle cx="1378.9" cy="1913.5" r="19.5"/><circle cx="1436.8" cy="1919.7" r="19.5"/><circle cx="1494.6" cy="1913.7" r="19.5"/><circle cx="1552.5" cy="1923.1" r="19.5"/></g>
<path d="M988.2 1896.8V1903.3M971.8 1903.3h32.8M988.2 1931.8V1925.3M971.8 1925.3h32.8M1046.1 1894.5V1901M1029.7 1901h32.8M1046.1 1929.5V1923M1029.7 1923h32.8M1103.9 1907.4V1913.9M1087.5 1913.9h32.8M1103.9 1942.4V1935.9M1087.5 1935.9h32.8M1161.8 1901.4V1907.9M1145.4 1907.9h32.8M1161.8 1936.4V1929.9M1145.4 1929.9h32.8M1219.7 1912.5V1919M1203.3 1919h32.8M1219.7 1947.5V1941M1203.3 1941h32.8M1277.5 1902.2V1908.7M1261.1 1908.7h32.8M1277.5 1937.2V1930.7M1261.1 1930.7h32.8M1451.2 1916.1V1921.4M1434.8 1921.4h32.8M1451.2 1951.1V1945.8M1434.8 1945.8h32.8M1509 1903.2V1906.6M1492.6 1906.6h32.8M1509 1938.2V1934.8M1492.6 1934.8h32.8" stroke="#4AAE7C"/>
<path d="M1335.4 1922.3V1921.8M1319 1921.8h32.8M1335.4 1957.3V1957.7M1319 1957.7h32.8M1393.3 1914V1909.1M1376.9 1909.1h32.8M1393.3 1949V1952.5M1376.9 1952.5h32.8M1566.9 1925V1914.1M1550.5 1914.1h32.8M1566.9 1960V1970.9M1550.5 1970.9h32.8" stroke="#42A976"/>
<path d="M973.8 1727.2V1705.7M957.4 1705.7h32.8M973.8 1767V1788.4M957.4 1788.4h32.8M1031.7 1712.8V1692.4M1015.3 1692.4h32.8M1031.7 1752.6V1773M1015.3 1773h32.8M1089.5 1748.7V1718.1M1073.1 1718.1h32.8M1089.5 1788.5V1819.3M1073.1 1819.3h32.8M1147.4 1801.7V1774.2M1131 1774.2h32.8M1147.4 1841.5V1869M1131 1869h32.8M1205.3 1831.4V1782.8M1188.9 1782.8h32.8M1205.3 1871.2V1919.9M1188.9 1919.9h32.8M1263.1 1852V1826M1246.7 1826h32.8M1263.1 1891.8V1919.1M1246.7 1919.1h32.8M1321 1883.8V1866.1M1304.6 1866.1h32.8M1321 1923.6V1941.4M1304.6 1941.4h32.8M1378.9 1893.6V1877.8M1362.5 1877.8h32.8M1378.9 1933.4V1950M1362.5 1950h32.8M1436.8 1899.8V1885.9M1420.4 1885.9h32.8M1436.8 1939.6V1954.2M1420.4 1954.2h32.8M1494.6 1893.8V1880.5M1478.2 1880.5h32.8M1494.6 1933.6V1946.9M1478.2 1946.9h32.8M1552.5 1903.2V1887.6M1536.1 1887.6h32.8M1552.5 1943V1958.1M1536.1 1958.1h32.8" stroke="#C06CA8"/>
</g>
<g clip-path="url(#cR5)" fill="none" stroke-width="1.85">
<g fill="#4AAE7C" stroke="#3AA670" stroke-width="0.8"><rect x="992.6" y="2284.6" width="34.2" height="34.2"/><rect x="1050.5" y="2278.4" width="34.2" height="34.2"/><rect x="1108.3" y="2299.2" width="34.2" height="34.2"/><rect x="1166.2" y="2284.6" width="34.2" height="34.2"/><rect x="1224.1" y="2302.6" width="34.2" height="34.2"/><rect x="1282" y="2295.6" width="34.2" height="34.2"/><rect x="1339.8" y="2300.2" width="34.2" height="34.2"/><rect x="1397.7" y="2294.5" width="34.2" height="34.2"/><rect x="1455.6" y="2303.5" width="34.2" height="34.2"/><rect x="1513.4" y="2293.3" width="34.2" height="34.2"/></g>
<g fill="#C676AE" stroke="#CB70AE" stroke-width="0.8"><circle cx="1002.2" cy="2091.2" r="19.5"/><circle cx="1060.1" cy="2086.2" r="19.5"/><circle cx="1117.9" cy="2204.3" r="19.5"/><circle cx="1175.8" cy="2243.8" r="19.5"/><circle cx="1233.7" cy="2292.4" r="19.5"/><circle cx="1291.5" cy="2270.3" r="19.5"/><circle cx="1349.4" cy="2299.3" r="19.5"/><circle cx="1407.3" cy="2279.3" r="19.5"/><circle cx="1465.2" cy="2305.4" r="19.5"/><circle cx="1523" cy="2280.8" r="19.5"/></g>
<path d="M1009.7 2284.2V2266.3M993.3 2266.3h32.8M1009.7 2319.2V2336.5M993.3 2336.5h32.8M1067.6 2278V2260.9M1051.2 2260.9h32.8M1067.6 2313V2329M1051.2 2329h32.8M1125.4 2298.8V2283.9M1109 2283.9h32.8M1125.4 2333.8V2348M1109 2348h32.8M1183.3 2284.2V2264.5M1166.9 2264.5h32.8M1183.3 2319.2V2338.2M1166.9 2338.2h32.8M1241.2 2302.2V2287.8M1224.8 2287.8h32.8M1241.2 2337.2V2350.1M1224.8 2350.1h32.8M1299 2295.2V2279.3M1282.6 2279.3h32.8M1299 2330.2V2345.5M1282.6 2345.5h32.8M1356.9 2299.8V2283M1340.5 2283h32.8M1356.9 2334.8V2351.1M1340.5 2351.1h32.8M1414.8 2294.1V2276M1398.4 2276h32.8M1414.8 2329.1V2346.9M1398.4 2346.9h32.8M1472.7 2303.1V2291.8M1456.3 2291.8h32.8M1472.7 2338.1V2348.4M1456.3 2348.4h32.8M1530.5 2292.9V2272.6M1514.1 2272.6h32.8M1530.5 2327.9V2348M1514.1 2348h32.8" stroke="#42A976"/>
<path d="M1002.2 2071.3V2049M985.8 2049h32.8M1002.2 2111.1V2133.8M985.8 2133.8h32.8M1060.1 2066.3V2041.5M1043.7 2041.5h32.8M1060.1 2106.1V2130.9M1043.7 2130.9h32.8M1117.9 2184.4V2151.5M1101.5 2151.5h32.8M1117.9 2224.2V2257.8M1101.5 2257.8h32.8M1175.8 2223.9V2201.6M1159.4 2201.6h32.8M1175.8 2263.7V2286M1159.4 2286h32.8M1233.7 2272.5V2238.8M1217.3 2238.8h32.8M1233.7 2312.3V2346.9M1217.3 2346.9h32.8M1291.5 2250.4V2233.8M1275.1 2233.8h32.8M1291.5 2290.2V2307.9M1275.1 2307.9h32.8M1349.4 2279.4V2266.3M1333 2266.3h32.8M1349.4 2319.2V2332.7M1333 2332.7h32.8M1407.3 2259.4V2248M1390.9 2248h32.8M1407.3 2299.2V2310.4M1390.9 2310.4h32.8M1465.2 2285.5V2274.7M1448.8 2274.7h32.8M1465.2 2325.3V2336.5M1448.8 2336.5h32.8M1523 2260.9V2251.1M1506.6 2251.1h32.8M1523 2300.7V2310.8M1506.6 2310.8h32.8" stroke="#C06CA8"/>
</g>
<path d="M127.0 135.5H738.5V2382.8H127.0ZM127.0 510.1H738.5M127.0 884.6H738.5M127.0 1259.2H738.5M127.0 1633.7H738.5M127.0 2008.2H738.5M161.00 115.5V135.5M245.93 125.5V135.5M330.85 115.5V135.5M415.77 125.5V135.5M500.70 115.5V135.5M585.62 125.5V135.5M670.55 115.5V135.5M161.00 490.1V530M245.93 500.1V520M330.85 490.1V530M415.77 500.1V520M500.70 490.1V530M585.62 500.1V520M670.55 490.1V530M161.00 864.6V904.6M245.93 874.6V894.6M330.85 864.6V904.6M415.77 874.6V894.6M500.70 864.6V904.6M585.62 874.6V894.6M670.55 864.6V904.6M161.00 1239.2V1279.2M245.93 1249.2V1269.2M330.85 1239.2V1279.2M415.77 1249.2V1269.2M500.70 1239.2V1279.2M585.62 1249.2V1269.2M670.55 1239.2V1279.2M161.00 1613.7V1653.7M245.93 1623.7V1643.7M330.85 1613.7V1653.7M415.77 1623.7V1643.7M500.70 1613.7V1653.7M585.62 1623.7V1643.7M670.55 1613.7V1653.7M161.00 1988.2V2028.2M245.93 1998.2V2018.2M330.85 1988.2V2028.2M415.77 1998.2V2018.2M500.70 1988.2V2028.2M585.62 1998.2V2018.2M670.55 1988.2V2028.2M161.00 2382.8V2402.8M245.93 2382.8V2392.8M330.85 2382.8V2402.8M415.77 2382.8V2392.8M500.70 2382.8V2402.8M585.62 2382.8V2392.8M670.55 2382.8V2402.8M117.0 493.53H127.0M738.5 493.53H748.5M107.0 438.44H127.0M738.5 438.44H758.5M117.0 383.36H127.0M738.5 383.36H748.5M107.0 328.28H127.0M738.5 328.28H758.5M117.0 273.20H127.0M738.5 273.20H748.5M107.0 218.12H127.0M738.5 218.12H758.5M117.0 163.04H127.0M738.5 163.04H748.5M117.0 868.08H127.0M738.5 868.08H748.5M107.0 812.99H127.0M738.5 812.99H758.5M117.0 757.91H127.0M738.5 757.91H748.5M107.0 702.83H127.0M738.5 702.83H758.5M117.0 647.75H127.0M738.5 647.75H748.5M107.0 592.67H127.0M738.5 592.67H758.5M117.0 537.59H127.0M738.5 537.59H748.5M117.0 1242.63H127.0M738.5 1242.63H748.5M107.0 1187.54H127.0M738.5 1187.54H758.5M117.0 1132.46H127.0M738.5 1132.46H748.5M107.0 1077.38H127.0M738.5 1077.38H758.5M117.0 1022.30H127.0M738.5 1022.30H748.5M107.0 967.22H127.0M738.5 967.22H758.5M117.0 912.14H127.0M738.5 912.14H748.5M117.0 1617.18H127.0M738.5 1617.18H748.5M107.0 1562.09H127.0M738.5 1562.09H758.5M117.0 1507.01H127.0M738.5 1507.01H748.5M107.0 1451.93H127.0M738.5 1451.93H758.5M117.0 1396.85H127.0M738.5 1396.85H748.5M107.0 1341.77H127.0M738.5 1341.77H758.5M117.0 1286.69H127.0M738.5 1286.69H748.5M117.0 1991.73H127.0M738.5 1991.73H748.5M107.0 1936.64H127.0M738.5 1936.64H758.5M117.0 1881.56H127.0M738.5 1881.56H748.5M107.0 1826.48H127.0M738.5 1826.48H758.5M117.0 1771.40H127.0M738.5 1771.40H748.5M107.0 1716.32H127.0M738.5 1716.32H758.5M117.0 1661.24H127.0M738.5 1661.24H748.5M117.0 2366.28H127.0M738.5 2366.28H748.5M107.0 2311.19H127.0M738.5 2311.19H758.5M117.0 2256.11H127.0M738.5 2256.11H748.5M107.0 2201.03H127.0M738.5 2201.03H758.5M117.0 2145.95H127.0M738.5 2145.95H748.5M107.0 2090.87H127.0M738.5 2090.87H758.5M117.0 2035.79H127.0M738.5 2035.79H748.5M957.75 135.5H1569.1V2382.8H957.75ZM957.75 510.1H1569.1M957.75 884.6H1569.1M957.75 1259.2H1569.1M957.75 1633.7H1569.1M957.75 2008.2H1569.1M991.70 115.5V135.5M1076.60 125.5V135.5M1161.50 115.5V135.5M1246.40 125.5V135.5M1331.30 115.5V135.5M1416.20 125.5V135.5M1501.10 115.5V135.5M991.70 490.1V530M1076.60 500.1V520M1161.50 490.1V530M1246.40 500.1V520M1331.30 490.1V530M1416.20 500.1V520M1501.10 490.1V530M991.70 864.6V904.6M1076.60 874.6V894.6M1161.50 864.6V904.6M1246.40 874.6V894.6M1331.30 864.6V904.6M1416.20 874.6V894.6M1501.10 864.6V904.6M991.70 1239.2V1279.2M1076.60 1249.2V1269.2M1161.50 1239.2V1279.2M1246.40 1249.2V1269.2M1331.30 1239.2V1279.2M1416.20 1249.2V1269.2M1501.10 1239.2V1279.2M991.70 1613.7V1653.7M1076.60 1623.7V1643.7M1161.50 1613.7V1653.7M1246.40 1623.7V1643.7M1331.30 1613.7V1653.7M1416.20 1623.7V1643.7M1501.10 1613.7V1653.7M991.70 1988.2V2028.2M1076.60 1998.2V2018.2M1161.50 1988.2V2028.2M1246.40 1998.2V2018.2M1331.30 1988.2V2028.2M1416.20 1998.2V2018.2M1501.10 1988.2V2028.2M991.70 2382.8V2402.8M1076.60 2382.8V2392.8M1161.50 2382.8V2402.8M1246.40 2382.8V2392.8M1331.30 2382.8V2402.8M1416.20 2382.8V2392.8M1501.10 2382.8V2402.8M937.75 476.00H957.75M1569.1 476.00H1589.1M947.75 438.17H957.75M1569.1 438.17H1579.1M937.75 400.33H957.75M1569.1 400.33H1589.1M947.75 362.50H957.75M1569.1 362.50H1579.1M937.75 324.67H957.75M1569.1 324.67H1589.1M947.75 286.83H957.75M1569.1 286.83H1579.1M937.75 249.00H957.75M1569.1 249.00H1589.1M947.75 211.17H957.75M1569.1 211.17H1579.1M937.75 173.33H957.75M1569.1 173.33H1589.1M947.75 135.50H957.75M1569.1 135.50H1579.1M937.75 850.55H957.75M1569.1 850.55H1589.1M947.75 812.72H957.75M1569.1 812.72H1579.1M937.75 774.88H957.75M1569.1 774.88H1589.1M947.75 737.05H957.75M1569.1 737.05H1579.1M937.75 699.22H957.75M1569.1 699.22H1589.1M947.75 661.38H957.75M1569.1 661.38H1579.1M937.75 623.55H957.75M1569.1 623.55H1589.1M947.75 585.72H957.75M1569.1 585.72H1579.1M937.75 547.88H957.75M1569.1 547.88H1589.1M947.75 510.05H957.75M1569.1 510.05H1579.1M937.75 1225.10H957.75M1569.1 1225.10H1589.1M947.75 1187.27H957.75M1569.1 1187.27H1579.1M937.75 1149.43H957.75M1569.1 1149.43H1589.1M947.75 1111.60H957.75M1569.1 1111.60H1579.1M937.75 1073.77H957.75M1569.1 1073.77H1589.1M947.75 1035.93H957.75M1569.1 1035.93H1579.1M937.75 998.10H957.75M1569.1 998.10H1589.1M947.75 960.27H957.75M1569.1 960.27H1579.1M937.75 922.43H957.75M1569.1 922.43H1589.1M947.75 884.60H957.75M1569.1 884.60H1579.1M937.75 1599.65H957.75M1569.1 1599.65H1589.1M947.75 1561.82H957.75M1569.1 1561.82H1579.1M937.75 1523.98H957.75M1569.1 1523.98H1589.1M947.75 1486.15H957.75M1569.1 1486.15H1579.1M937.75 1448.32H957.75M1569.1 1448.32H1589.1M947.75 1410.48H957.75M1569.1 1410.48H1579.1M937.75 1372.65H957.75M1569.1 1372.65H1589.1M947.75 1334.82H957.75M1569.1 1334.82H1579.1M937.75 1296.98H957.75M1569.1 1296.98H1589.1M947.75 1259.15H957.75M1569.1 1259.15H1579.1M937.75 1974.20H957.75M1569.1 1974.20H1589.1M947.75 1936.37H957.75M1569.1 1936.37H1579.1M937.75 1898.53H957.75M1569.1 1898.53H1589.1M947.75 1860.70H957.75M1569.1 1860.70H1579.1M937.75 1822.87H957.75M1569.1 1822.87H1589.1M947.75 1785.03H957.75M1569.1 1785.03H1579.1M937.75 1747.20H957.75M1569.1 1747.20H1589.1M947.75 1709.37H957.75M1569.1 1709.37H1579.1M937.75 1671.53H957.75M1569.1 1671.53H1589.1M947.75 1633.70H957.75M1569.1 1633.70H1579.1M937.75 2348.75H957.75M1569.1 2348.75H1589.1M947.75 2310.92H957.75M1569.1 2310.92H1579.1M937.75 2273.08H957.75M1569.1 2273.08H1589.1M947.75 2235.25H957.75M1569.1 2235.25H1579.1M937.75 2197.42H957.75M1569.1 2197.42H1589.1M947.75 2159.58H957.75M1569.1 2159.58H1579.1M937.75 2121.75H957.75M1569.1 2121.75H1589.1M947.75 2083.92H957.75M1569.1 2083.92H1579.1M937.75 2046.08H957.75M1569.1 2046.08H1589.1M947.75 2008.25H957.75M1569.1 2008.25H1579.1" stroke="#000" stroke-width="3.8" fill="none" stroke-linecap="butt" stroke-linejoin="miter"/>
<path d="M251.6 505V559.8" stroke="#42A976" stroke-width="1.85" fill="none"/>
<text transform="translate(92.5 449.9) scale(1 1.035)" text-anchor="end">0</text>
<text transform="translate(92.5 339.8) scale(1 1.035)" text-anchor="end">20</text>
<text transform="translate(92.5 229.6) scale(1 1.035)" text-anchor="end">40</text>
<text transform="translate(924.0 487.5) scale(1 1.035)" text-anchor="end">0.0</text>
<text transform="translate(924.0 411.8) scale(1 1.035)" text-anchor="end">0.1</text>
<text transform="translate(924.0 336.2) scale(1 1.035)" text-anchor="end">0.2</text>
<text transform="translate(924.0 260.5) scale(1 1.035)" text-anchor="end">0.3</text>
<text transform="translate(924.0 184.8) scale(1 1.035)" text-anchor="end">0.4</text>
<text transform="translate(92.5 824.5) scale(1 1.035)" text-anchor="end">0</text>
<text transform="translate(92.5 714.3) scale(1 1.035)" text-anchor="end">20</text>
<text transform="translate(92.5 604.2) scale(1 1.035)" text-anchor="end">40</text>
<text transform="translate(924.0 862.1) scale(1 1.035)" text-anchor="end">0.0</text>
<text transform="translate(924.0 786.4) scale(1 1.035)" text-anchor="end">0.1</text>
<text transform="translate(924.0 710.7) scale(1 1.035)" text-anchor="end">0.2</text>
<text transform="translate(924.0 635.1) scale(1 1.035)" text-anchor="end">0.3</text>
<text transform="translate(924.0 559.4) scale(1 1.035)" text-anchor="end">0.4</text>
<text transform="translate(92.5 1199.0) scale(1 1.035)" text-anchor="end">0</text>
<text transform="translate(92.5 1088.9) scale(1 1.035)" text-anchor="end">20</text>
<text transform="translate(92.5 978.7) scale(1 1.035)" text-anchor="end">40</text>
<text transform="translate(924.0 1236.6) scale(1 1.035)" text-anchor="end">0.0</text>
<text transform="translate(924.0 1160.9) scale(1 1.035)" text-anchor="end">0.1</text>
<text transform="translate(924.0 1085.3) scale(1 1.035)" text-anchor="end">0.2</text>
<text transform="translate(924.0 1009.6) scale(1 1.035)" text-anchor="end">0.3</text>
<text transform="translate(924.0 933.9) scale(1 1.035)" text-anchor="end">0.4</text>
<text transform="translate(92.5 1573.6) scale(1 1.035)" text-anchor="end">0</text>
<text transform="translate(92.5 1463.4) scale(1 1.035)" text-anchor="end">20</text>
<text transform="translate(92.5 1353.3) scale(1 1.035)" text-anchor="end">40</text>
<text transform="translate(924.0 1611.2) scale(1 1.035)" text-anchor="end">0.0</text>
<text transform="translate(924.0 1535.5) scale(1 1.035)" text-anchor="end">0.1</text>
<text transform="translate(924.0 1459.8) scale(1 1.035)" text-anchor="end">0.2</text>
<text transform="translate(924.0 1384.2) scale(1 1.035)" text-anchor="end">0.3</text>
<text transform="translate(924.0 1308.5) scale(1 1.035)" text-anchor="end">0.4</text>
<text transform="translate(92.5 1948.1) scale(1 1.035)" text-anchor="end">0</text>
<text transform="translate(92.5 1838.0) scale(1 1.035)" text-anchor="end">20</text>
<text transform="translate(92.5 1727.8) scale(1 1.035)" text-anchor="end">40</text>
<text transform="translate(924.0 1985.7) scale(1 1.035)" text-anchor="end">0.0</text>
<text transform="translate(924.0 1910.0) scale(1 1.035)" text-anchor="end">0.1</text>
<text transform="translate(924.0 1834.4) scale(1 1.035)" text-anchor="end">0.2</text>
<text transform="translate(924.0 1758.7) scale(1 1.035)" text-anchor="end">0.3</text>
<text transform="translate(924.0 1683.0) scale(1 1.035)" text-anchor="end">0.4</text>
<text transform="translate(92.5 2322.7) scale(1 1.035)" text-anchor="end">0</text>
<text transform="translate(92.5 2212.5) scale(1 1.035)" text-anchor="end">20</text>
<text transform="translate(92.5 2102.4) scale(1 1.035)" text-anchor="end">40</text>
<text transform="translate(924.0 2360.2) scale(1 1.035)" text-anchor="end">0.0</text>
<text transform="translate(924.0 2284.6) scale(1 1.035)" text-anchor="end">0.1</text>
<text transform="translate(924.0 2208.9) scale(1 1.035)" text-anchor="end">0.2</text>
<text transform="translate(924.0 2133.2) scale(1 1.035)" text-anchor="end">0.3</text>
<text transform="translate(924.0 2057.6) scale(1 1.035)" text-anchor="end">0.4</text>
<text transform="translate(161.0 2446.5) scale(1 1.035)" text-anchor="middle">0</text>
<text transform="translate(330.9 2446.5) scale(1 1.035)" text-anchor="middle">50</text>
<text transform="translate(500.7 2446.5) scale(1 1.035)" text-anchor="middle">100</text>
<text transform="translate(670.5 2446.5) scale(1 1.035)" text-anchor="middle">150</text>
<text x="431.2" y="2488.9" text-anchor="middle">Distance to edge of drilled hole (µm)</text>
<text transform="translate(991.7 2446.5) scale(1 1.035)" text-anchor="middle">0</text>
<text transform="translate(1161.5 2446.5) scale(1 1.035)" text-anchor="middle">50</text>
<text transform="translate(1331.3 2446.5) scale(1 1.035)" text-anchor="middle">100</text>
<text transform="translate(1501.1 2446.5) scale(1 1.035)" text-anchor="middle">150</text>
<text x="1261.9" y="2488.9" text-anchor="middle">Distance to edge of drilled hole (µm)</text>
<text transform="translate(31.2 322.3) rotate(-90) scale(1 1.02)" text-anchor="middle">MSFL (%)</text>
<text transform="translate(31.2 1262.7) rotate(-90) scale(1 1.02)" text-anchor="middle">MSFL (%)</text>
<text transform="translate(31.2 2195) rotate(-90) scale(1 1.02)" text-anchor="middle">MSFL (%)</text>
<text transform="translate(851.7 321.7) rotate(-90)" text-anchor="middle">Intensity at 1780 cm<tspan font-size="26" dy="-15.8">-1</tspan><tspan dy="15.8"> (a.u.)</tspan></text>
<text transform="translate(851.7 1252.2) rotate(-90)" text-anchor="middle">Intensity at 1780 cm<tspan font-size="26" dy="-15.8">-1</tspan><tspan dy="15.8"> (a.u.)</tspan></text>
<text transform="translate(851.7 2193.5) rotate(-90)" text-anchor="middle">Intensity at 1780 cm<tspan font-size="26" dy="-15.8">-1</tspan><tspan dy="15.8"> (a.u.)</tspan></text>
<text x="599.8" y="193.2">White</text>
<text x="605.5" y="580.1">Black</text>
<text x="601.5" y="949.5">Dark</text>
<text x="601.5" y="996.6">Brown</text>
<text x="601.5" y="1324.3">Light</text>
<text x="601.5" y="1371.4">Brown</text>
<text x="615.5" y="1698.4">Blue</text>
<text x="615.5" y="2072.8">Red</text>
<circle cx="188.4" cy="23" r="19.6" fill="#DAA22A" stroke="#DD9B16" stroke-width="0.8"/>
<rect x="170.6" y="53.2" width="36" height="35.6" fill="#4AAE7C" stroke="#3AA670" stroke-width="0.8"/>
<text x="242.4" y="36.2">Bohus-Malmön weathering</text>
<text x="242.4" y="83.2">Unexposed</text>
<circle cx="1015.3" cy="23" r="19.6" fill="#C676AE" stroke="#CB70AE" stroke-width="0.8"/>
<rect x="997.5" y="53.2" width="36" height="35.6" fill="#4AAE7C" stroke="#3AA670" stroke-width="0.8"/>
<text x="1069.3" y="36.2">Bohus-Malmön weathering</text>
<text x="1069.3" y="83.2">Unexposed</text>
</svg>
</body></html>
